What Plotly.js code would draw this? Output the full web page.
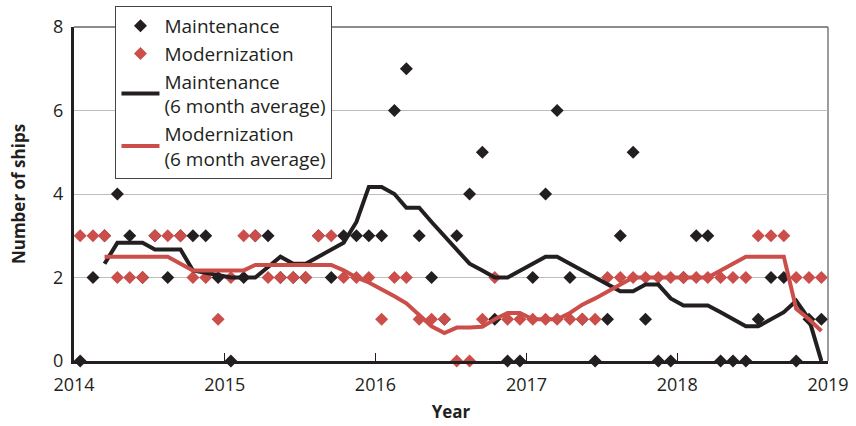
<!DOCTYPE html>
<html>
<head>
<meta charset="utf-8">
<script src="https://cdn.plot.ly/plotly-3.0.1.min.js"></script>
<style>
  html, body { margin: 0; padding: 0; background: #fff; }
  #chart { width: 856px; height: 426px; }
</style>
</head>
<body>
<div id="chart"></div>
<script>
// Monthly categories, Jan 2014 .. Dec 2018 (plotted at mid-month)
const years = [2014, 2015, 2016, 2017, 2018];
const months = [];
years.forEach(y => { for (let m = 1; m <= 12; m++) months.push(y + '-' + String(m).padStart(2, '0') + '-16'); });

// Number of ships per month
const maintenance = [
  0, 2, 3, 4, 3, 2, 3, 2, 3, 3, 3, 2,
  0, 2, 3, 3, 2, 2, 2, 3, 2, 3, 3, 3,
  3, 6, 7, 3, 2, 1, 3, 4, 5, 1, 0, 0,
  2, 4, 6, 2, 1, 0, 1, 3, 5, 1, 0, 0,
  2, 3, 3, 0, 0, 0, 1, 2, 2, 0, 1, 1
];
const modernization = [
  3, 3, 3, 2, 2, 2, 3, 3, 3, 2, 2, 1,
  2, 3, 3, 2, 2, 2, 2, 3, 3, 2, 2, 2,
  1, 2, 2, 1, 1, 1, 0, 0, 1, 2, 1, 1,
  1, 1, 1, 1, 1, 1, 2, 2, 2, 2, 2, 2,
  2, 2, 2, 2, 2, 2, 3, 3, 3, 2, 2, 2
];
// 6 month averages
const maintenanceAvg = [
  null, null, 2.33, 2.83, 2.83, 2.83, 2.67, 2.67, 2.67, 2.17, 2.12, 2.05,
  2.0, 2.0, 2.0, 2.25, 2.5, 2.33, 2.33, 2.5, 2.67, 2.83, 3.33, 4.17,
  4.17, 4.0, 3.67, 3.67, 3.33, 3.0, 2.67, 2.33, 2.17, 2.0, 2.0, 2.17,
  2.33, 2.5, 2.5, 2.33, 2.17, 2.0, 1.83, 1.67, 1.67, 1.83, 1.83, 1.5,
  1.33, 1.33, 1.33, 1.17, 1.0, 0.83, 0.83, 1.0, 1.17, 1.44, 1.0, 0
];
const modernizationAvg = [
  null, null, 2.5, 2.5, 2.5, 2.5, 2.5, 2.5, 2.33, 2.17, 2.17, 2.17,
  2.17, 2.17, 2.3, 2.3, 2.3, 2.3, 2.3, 2.3, 2.3, 2.17, 2.0, 1.88,
  1.72, 1.55, 1.38, 1.1, 0.83, 0.67, 0.8, 0.8, 0.82, 1.0, 1.15, 1.15,
  1.0, 1.0, 1.0, 1.15, 1.35, 1.5, 1.67, 1.83, 2.0, 2.0, 2.0, 2.0,
  2.0, 2.0, 2.0, 2.17, 2.33, 2.5, 2.5, 2.5, 2.5, 1.25, 1.0, 0.72
];
const yTicks = [0, 2, 4, 6, 8];
const xTickVals = ['2014-01-01', '2015-01-01', '2016-01-01', '2017-01-01', '2018-01-01', '2019-01-01'];
const xTickText = ['2014', '2015', '2016', '2017', '2018', '2019'];

const BLACK = '#231f20';
const RED = '#cc4e4a';
const FONT = 'Open Sans, Noto Sans, sans-serif';

const traces = [
  { x: months, y: maintenance, name: 'Maintenance', type: 'scatter', mode: 'markers', legendgroup: 'a',
    cliponaxis: false, marker: { symbol: 'diamond', size: 10, color: BLACK } },
  { x: months, y: modernization, name: 'Modernization', type: 'scatter', mode: 'markers', legendgroup: 'b',
    cliponaxis: false, marker: { symbol: 'diamond', size: 10, color: RED } },
  { x: months, y: maintenanceAvg, name: 'Maintenance<br>(6 month average)', type: 'scatter', mode: 'lines', legendgroup: 'c',
    cliponaxis: false, line: { color: BLACK, width: 4 } },
  { x: months, y: modernizationAvg, name: 'Modernization<br>(6 month average)', type: 'scatter', mode: 'lines', legendgroup: 'd',
    cliponaxis: false, line: { color: RED, width: 4 } }
];

const layout = {
  width: 856, height: 426,
  margin: { l: 74, r: 28, t: 27, b: 65, autoexpand: false },
  paper_bgcolor: '#fff', plot_bgcolor: '#fff',
  font: { family: FONT, color: '#231f20', size: 18 },
  showlegend: true,
  legend: {
    x: 0.055, y: 1.063, xanchor: 'left', yanchor: 'top',
    bgcolor: '#fff', bordercolor: '#444', borderwidth: 1,
    font: { family: FONT, size: 19, color: '#231f20' },
    itemwidth: 38,
    tracegroupgap: 1, traceorder: 'normal'
  },
  xaxis: {
    type: 'date',
    range: ['2014-01-01', '2019-01-01'],
    tickvals: xTickVals, ticktext: xTickText,
    ticks: 'inside', ticklen: 8, tickcolor: BLACK, tickwidth: 1,
    showgrid: false, zeroline: false,
    showline: true, linecolor: BLACK, linewidth: 3,
    ticklabelstandoff: 5,
    tickfont: { family: FONT, size: 18, color: '#231f20' },
    title: { text: '<b>Year</b>', font: { family: FONT, size: 17, color: '#231f20' }, standoff: 12 }
  },
  yaxis: {
    range: [0, 8],
    tickvals: yTicks,
    ticks: '', showgrid: true, gridcolor: '#bdbdbd', gridwidth: 1,
    zeroline: false,
    showline: true, linecolor: BLACK, linewidth: 3,
    ticklabelstandoff: 4,
    tickfont: { family: FONT, size: 18, color: '#231f20' },
    title: { text: '<b>Number of ships</b>', font: { family: FONT, size: 17, color: '#231f20' }, standoff: 24 }
  },
  shapes: [
    { type: 'line', xref: 'paper', yref: 'paper', x0: 0, x1: 1, y0: 1, y1: 1, line: { color: '#666', width: 1.3 }, layer: 'below' },
    { type: 'line', xref: 'paper', yref: 'paper', x0: 1, x1: 1, y0: 0, y1: 1, line: { color: '#666', width: 1.3 }, layer: 'below' }
  ]
};

Plotly.newPlot('chart', traces, layout, { displayModeBar: false, staticPlot: true });
</script>
</body>
</html>
